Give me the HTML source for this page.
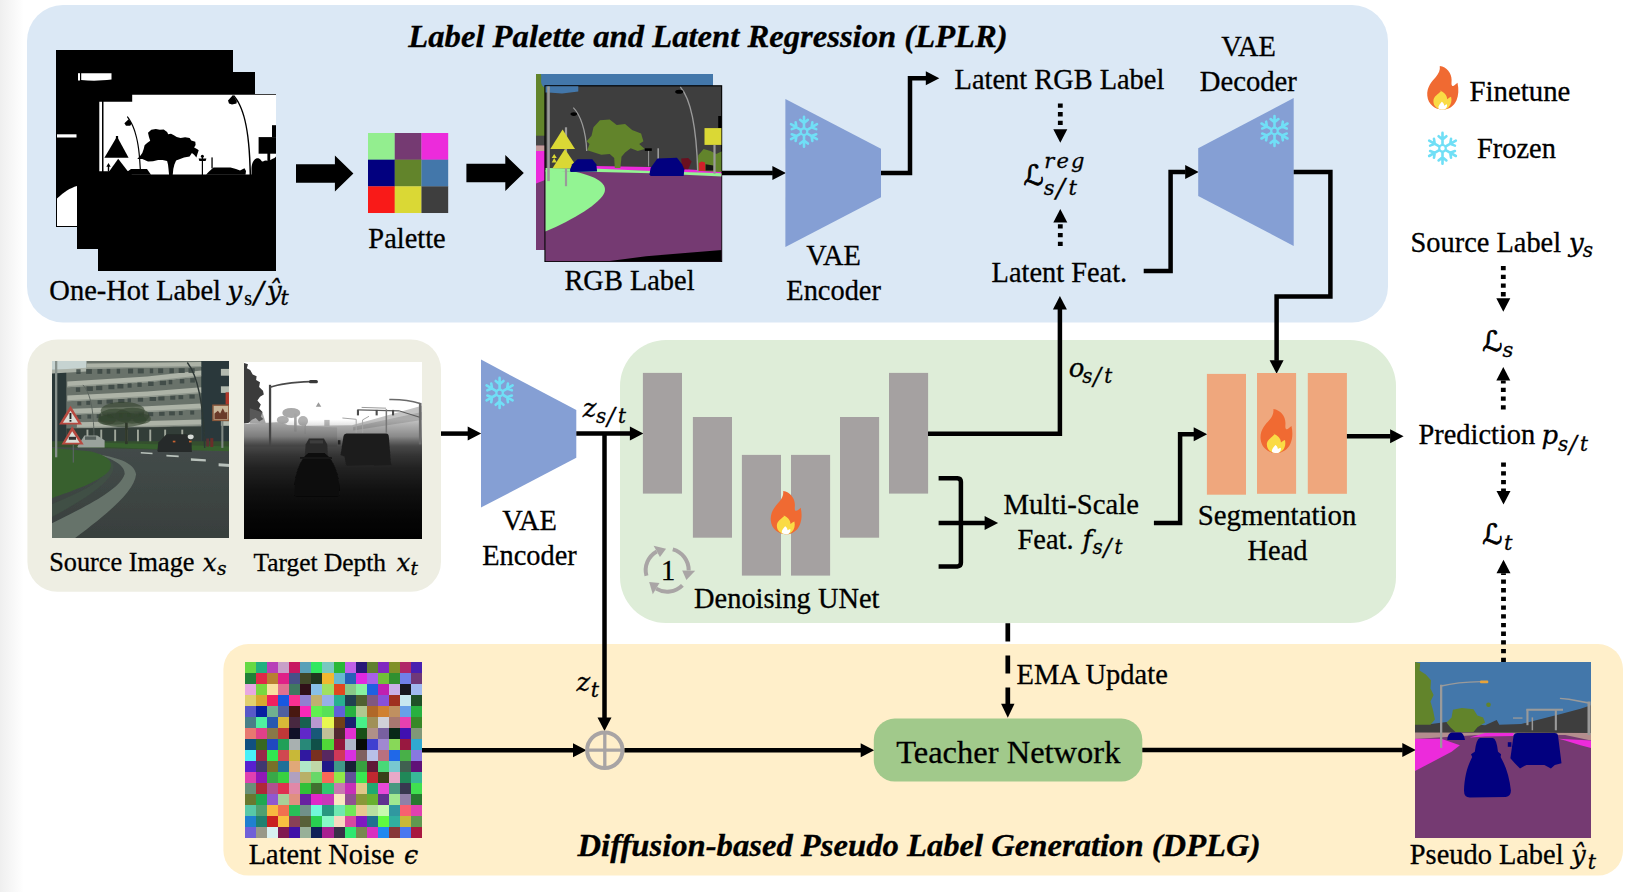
<!DOCTYPE html>
<html lang="en"><head><meta charset="utf-8"><title>Framework overview</title>
<style>
html,body{margin:0;padding:0;background:#fff;}
body{width:1642px;height:892px;overflow:hidden;position:relative;}
svg{display:block;position:absolute;left:0;top:0;}
text{font-family:'Liberation Serif',serif;fill:#000;stroke:#000;stroke-width:0.3px;}
</style></head><body>
<svg width="1642" height="892" viewBox="0 0 1642 892">
<defs>
<linearGradient id="edge" x1="0" x2="1" y1="0" y2="0"><stop offset="0" stop-color="#efefef"/><stop offset="1" stop-color="#ffffff"/></linearGradient>
<linearGradient id="depthg" x1="0" x2="0" y1="0" y2="1">
<stop offset="0" stop-color="#ffffff"/><stop offset="0.325" stop-color="#ffffff"/><stop offset="0.36" stop-color="#e2e2e2"/><stop offset="0.42" stop-color="#b4b4b4"/><stop offset="0.45" stop-color="#828282"/><stop offset="0.475" stop-color="#5e5e5e"/><stop offset="0.53" stop-color="#424242"/><stop offset="0.60" stop-color="#2b2b2b"/><stop offset="0.72" stop-color="#161616"/><stop offset="0.86" stop-color="#080808"/><stop offset="1" stop-color="#000"/></linearGradient>
<linearGradient id="roadg" x1="0" x2="0" y1="0" y2="1"><stop offset="0" stop-color="#434b49"/><stop offset="1" stop-color="#383f3d"/></linearGradient>
<filter id="b1" x="-5%" y="-5%" width="110%" height="110%"><feGaussianBlur stdDeviation="0.7"/></filter>
<filter id="b2" x="-5%" y="-5%" width="110%" height="110%"><feGaussianBlur stdDeviation="1.1"/></filter>
<clipPath id="c177"><rect x="0" y="0" width="177" height="177"/></clipPath>
</defs>
<rect x="0" y="0" width="1642" height="892" fill="#fff"/>
<rect x="0" y="0" width="24" height="892" fill="url(#edge)"/>
<rect x="27" y="5" width="1361" height="317.6" rx="36" fill="#DBE8F5"/>
<rect x="27.4" y="339.5" width="413.6" height="252.2" rx="30" fill="#EEEEE3"/>
<rect x="620" y="340" width="776" height="283" rx="46" fill="#DEEDD8"/>
<rect x="223.4" y="644" width="1399.6" height="231.6" rx="25" fill="#FFEFCA"/>
<text x="408.3" y="47.0" font-size="31" text-anchor="start" font-weight="bold" font-style="italic" textLength="599.4" lengthAdjust="spacingAndGlyphs">Label Palette and Latent Regression (LPLR)</text>
<text x="577.5" y="856.2" font-size="31" text-anchor="start" font-weight="bold" font-style="italic" textLength="683" lengthAdjust="spacingAndGlyphs">Diffusion-based Pseudo Label Generation (DPLG)</text>
<g>
<rect x="56.0" y="50.0" width="177" height="177" fill="#000"/>
<rect x="57" y="134.3" width="19.5" height="3.2" fill="#fff"/>
<path d="M57,198.5 C64,192 70,188 77,186 V226 H57 Z" fill="#fff"/>
<rect x="77" y="72" width="178" height="177" fill="#000"/>
<rect x="78" y="73.2" width="2" height="7.3" fill="#fff"/><path d="M81.2,73.2 H111.5 V79.6 C100,81 90,81 81.2,80 Z" fill="#fff"/>
<rect x="98" y="94" width="178" height="177" fill="#000"/>
<path d="M99.3,101.8 H132.2 V94.7 H276 V175.4 H99.3 Z" fill="#fff"/>
<g fill="#000" stroke="none">
<rect x="102" y="101" width="1.5" height="75"/>
<path d="M99,171.3 H128 L132,174.6 H276 V177 H99 Z"/>
<path d="M117,136.5 L128.6,157.8 H104.4 Z"/><rect x="115.9" y="136" width="2.2" height="5"/>
<path d="M118.2,158.7 L128.4,172 H108.8 Z"/>
<path d="M108.5,163 L110.7,166.8 H109.2 V171.5 H107.8 V166.8 H106.3 Z"/>
<path d="M127.5,116 C134,124 139.8,138 140.9,169 H139.7 C138.6,139 133.5,126 127,117.2 Z"/>
<path d="M124.4,123.2 L128.6,119.2 L131.7,123.4 L130.2,125.7 H126 Z"/>
<polygon points="148.0,132.8 151.3,129.7 155.8,128.9 159.8,129.7 163.7,129.4 167.1,131.9 168.2,134.2 171.0,133.7 173.9,135.3 176.7,137.1 180.6,137.9 185.1,137.3 189.6,137.9 191.3,140.5 195.3,141.8 195.6,145.0 194.1,147.5 197.0,149.1 198.7,150.3 197.5,153.7 196.4,157.6 194.1,154.8 191.9,153.1 189.6,156.5 184.0,157.6 180.1,158.9 176.1,160.4 174.4,164.4 173.3,168.9 172.7,175.2 169.1,175.2 168.5,168.9 168.0,164.4 167.1,161.0 162.6,160.1 158.1,159.9 153.0,161.2 148.0,161.5 144.6,160.1 142.3,158.9 137.2,158.9 140.1,155.9 142.3,153.1 143.7,149.1 144.6,145.2 147.1,143.0 150.2,140.7 148.9,136.8"/>
<rect x="201.8" y="155" width="1.2" height="21"/><path d="M198.6,158.5 H206.4 L205.6,161 H199.4 Z"/><circle cx="202.4" cy="156.2" r="1.5"/>
<rect x="211.4" y="157.4" width="1.3" height="11"/>
<path d="M127.5,171.5 L131,168.9 H147 L151,174.8 H127.5 Z"/>
<path d="M206,174.8 L208.5,172 L213.5,167.5 H230.5 L236,169 L240,170.5 L244.5,168.3 L246,171 L245.5,174.8 Z"/>
<path d="M234,95 C243,105 250.2,125 251.2,175.2 H249.6 C248.8,126 242.5,107.5 233.2,96 Z"/>
<path d="M233,95 L228,100.5 L229,103.6 L232,104.5 L236.5,103.6 L236.8,101 Z"/>
<rect x="258.6" y="137.1" width="17.4" height="16.6"/><rect x="272" y="125.2" width="4" height="12"/><rect x="267.4" y="153" width="2.8" height="17"/>
<path d="M251.5,175 V168 C252,160 256,157.5 259,158.5 C261,159.5 261.5,162 263,161.5 C265,160 267,160 268.5,161.5 C271,158.5 273.5,159.5 276,156.5 V175 Z"/>
</g></g>
<text x="49.3" y="300.3" font-size="28.5" text-anchor="start" >One-Hot Label <tspan x="227.2" y="300.3" font-size="26.5" font-style="italic" font-family="'DejaVu Serif','Liberation Serif',serif">y</tspan><tspan x="244.2" y="304.8" font-size="20">s</tspan><tspan x="254.0" y="302.6" font-size="29" font-style="italic" font-family="'DejaVu Serif','Liberation Serif',serif">/</tspan><tspan x="266.8" y="300.3" font-size="26.5" font-style="italic" font-family="'DejaVu Serif','Liberation Serif',serif">&#375;</tspan><tspan x="280.6" y="304.8" font-size="20.5" font-style="italic" font-family="'DejaVu Serif','Liberation Serif',serif">t</tspan></text>
<polygon points="296.0,164.3 334.9,164.3 334.9,155.6 353.4,173.6 334.9,191.6 334.9,182.8 296.0,182.8" fill="#000"/>
<polygon points="466.4,163.8 505.3,163.8 505.3,155.0 523.8,173.0 505.3,191.0 505.3,182.2 466.4,182.2" fill="#000"/>
<rect x="368.00" y="133.00" width="26.90" height="26.90" fill="#93EE8F"/>
<rect x="394.73" y="133.00" width="26.90" height="26.90" fill="#753A72"/>
<rect x="421.46" y="133.00" width="26.73" height="26.90" fill="#EC2BDB"/>
<rect x="368.00" y="159.67" width="26.90" height="26.90" fill="#02007F"/>
<rect x="394.73" y="159.67" width="26.90" height="26.90" fill="#62842B"/>
<rect x="421.46" y="159.67" width="26.73" height="26.90" fill="#4377AA"/>
<rect x="368.00" y="186.34" width="26.90" height="26.67" fill="#F91A18"/>
<rect x="394.73" y="186.34" width="26.90" height="26.67" fill="#DAD835"/>
<rect x="421.46" y="186.34" width="26.73" height="26.67" fill="#3E3E3E"/>
<text x="407.0" y="248.0" font-size="28.4" text-anchor="middle" >Palette</text>
<g>
<rect x="536.0" y="74.0" width="177" height="176" fill="#753A72"/>
<rect x="536.0" y="74.0" width="177" height="14" fill="#4377AA"/>
<path d="M536,74 H541 C542,80 539,84 545,88 V136 H536 Z" fill="#62842B"/>
<rect x="536" y="135.7" width="9" height="10" fill="#474747"/>
<rect x="536" y="145.5" width="9" height="6" fill="#C39A9A"/>
<path d="M536,151 H545 V180 L536,183.5 Z" fill="#EC2BDB"/>
<rect x="544.4" y="85.2" width="177.8" height="176.8" fill="#000"/>
<g transform="translate(545.4,86.2)">
<clipPath id="crgb"><rect x="0" y="0" width="176" height="175"/></clipPath><g clip-path="url(#crgb)">
<rect x="0" y="0" width="176" height="175" fill="#3E3E3E"/>
<polygon points="-0.1,-1.0 32.9,-1.0 32.9,5.2 16.7,7.4 2.7,6.3 -0.1,6.3" fill="#4377AA"/>
<polygon points="-0.1,84.5 176.7,87.3 176.7,175.6 -0.1,175.6" fill="#753A72"/>
<polygon points="50.3,79.7 103.6,80.9 176.7,85.3 176.7,89.3 103.6,84.8 50.3,83.7" fill="#EC2BDB"/>
<polygon points="-0.1,81.7 53.1,82.5 106.4,84.8 176.7,87.0 176.7,90.4 106.4,87.0 53.1,85.9 -0.1,85.3" fill="#93F493"/>
<path d="M-0.1,83.7 L30.7,85.9 C50.3,90.1 61.5,97.1 59.3,105.5 C55.9,116.7 27.9,133.5 -0.1,145.3 Z" fill="#93F493"/>
<polygon points="48.1,41.1 54.5,34.1 64.3,33.2 71.3,38.8 79.7,37.7 86.7,43.9 95.7,47.2 98.0,55.1 93.8,57.9 99.4,62.9 92.3,64.9 85.3,62.1 79.7,66.3 76.1,70.5 75.0,81.7 69.4,81.7 68.8,71.9 64.3,67.7 55.9,68.5 48.9,66.3 41.9,64.0 44.1,57.9 41.3,55.1 46.1,49.5" fill="#62842B"/>
<polygon points="151.8,84.5 152.9,69.1 158.2,62.9 165.2,64.9 170.8,67.7 176.7,64.9 176.7,85.9" fill="#62842B"/>
<polygon points="153.4,76.9 156.2,75.3 159.6,76.4 160.2,84.5 153.4,84.5" fill="#D0202A"/>
<polygon points="135.8,72.4 142.8,71.9 146.2,75.3 142.8,83.1 136.6,83.1" fill="#6A1020"/>
<polygon points="160.2,78.1 168.0,79.2 168.0,84.2 160.2,84.2" fill="#151515"/>
<rect x="1.8" y="0" width="2.6" height="94.9" fill="#9A9A9A"/>
<rect x="19.5" y="41.1" width="2.2" height="58.9" fill="#9A9A9A"/>
<polygon points="17.2,43.3 29.6,62.9 4.9,62.9" fill="#DAD835"/>
<polygon points="19.5,62.9 32.4,82.0 7.1,82.0" fill="#DAD835"/>
<polygon points="8.8,67.7 11.4,71.9 6.3,71.9" fill="#DAD835"/>
<polygon points="8.8,71.9 11.4,76.4 6.3,76.4" fill="#DAD835"/>
<path d="M27.9,21.4 C34.9,28.4 40.5,43.9 41.3,64.9" fill="none" stroke="#9A9A9A" stroke-width="1.3"/>
<ellipse cx="28.4" cy="27.9" rx="3.3" ry="1.8" fill="#000"/>
<path d="M134.9,0.7 C145.6,13.0 151.2,43.9 152.3,85.3" fill="none" stroke="#9A9A9A" stroke-width="1.4"/>
<ellipse cx="133.8" cy="5.5" rx="4" ry="2" fill="#000"/>
<rect x="102.7" y="62.9" width="1" height="17.4" fill="#9A9A9A"/>
<rect x="99.4" y="62.1" width="7" height="2.6" fill="#000"/>
<rect x="112.0" y="62.1" width="1.6" height="14.0" fill="#9A9A9A"/>
<path d="M24.5,83.7 L26.8,78.1 L32.1,73.0 L46.9,73.0 L50.9,78.1 L51.7,85.3 L25.1,85.9 Z" fill="#02007F"/>
<path d="M104.1,88.1 L105.2,81.7 L112.0,72.4 L131.6,71.6 L136.6,78.1 L138.9,83.1 L138.3,89.8 L105.2,89.8 Z" fill="#02007F"/>
<rect x="172.8" y="29.8" width="4" height="12.1" fill="#000"/>
<rect x="168.0" y="58.7" width="2.2" height="28.9" fill="#9A9A9A"/>
<rect x="159.1" y="41.9" width="19" height="16.8" fill="#DAD835"/>
<polygon points="55.9,175.9 100.8,170.0 142.8,166.6 176.7,163.8 176.7,175.9" fill="#000"/>
</g></g></g>
<text x="629.5" y="290.0" font-size="28.4" text-anchor="middle" >RGB Label</text>
<polyline points="722.0,173.0 772.9,173.0" fill="none" stroke="#000" stroke-width="4.5" stroke-linejoin="miter"/><polygon points="785.9,173.0 772.4,180.0 772.4,166.0" fill="#000"/>
<polygon points="785.4,99 881,148.8 881,197.3 785.4,247" fill="#859FD4"/>
<g transform="translate(804.0,131.7)" stroke="#70DFF6" stroke-width="2.6" stroke-linecap="round" fill="none">
<g transform="rotate(0)"><path d="M0,-4.2 L0,-15.0 M0,-8.7 l-3.9,-3.2 M0,-8.7 l3.9,-3.2"/></g>
<g transform="rotate(60)"><path d="M0,-4.2 L0,-15.0 M0,-8.7 l-3.9,-3.2 M0,-8.7 l3.9,-3.2"/></g>
<g transform="rotate(120)"><path d="M0,-4.2 L0,-15.0 M0,-8.7 l-3.9,-3.2 M0,-8.7 l3.9,-3.2"/></g>
<g transform="rotate(180)"><path d="M0,-4.2 L0,-15.0 M0,-8.7 l-3.9,-3.2 M0,-8.7 l3.9,-3.2"/></g>
<g transform="rotate(240)"><path d="M0,-4.2 L0,-15.0 M0,-8.7 l-3.9,-3.2 M0,-8.7 l3.9,-3.2"/></g>
<g transform="rotate(300)"><path d="M0,-4.2 L0,-15.0 M0,-8.7 l-3.9,-3.2 M0,-8.7 l3.9,-3.2"/></g>
<circle r="3.3" stroke-width="2.2"/>
</g>
<text x="833.6" y="264.5" font-size="28.4" text-anchor="middle" >VAE</text>
<text x="833.6" y="299.9" font-size="28.4" text-anchor="middle" >Encoder</text>
<polyline points="881.0,173.0 910.0,173.0 910.0,78.2 926.3,78.2" fill="none" stroke="#000" stroke-width="4.5" stroke-linejoin="miter"/><polygon points="939.3,78.2 925.8,85.2 925.8,71.2" fill="#000"/>
<text x="954.6" y="89.0" font-size="28.4" text-anchor="start" >Latent RGB Label</text>
<line x1="1060.3" y1="103.4" x2="1060.3" y2="129.3" stroke="#000" stroke-width="4.8" stroke-dasharray="4.3 4.4"/>
<polygon points="1060.3,142.8 1053.3,129.3 1067.3,129.3" fill="#000"/>
<text x="1023.5" y="185.3" style="font-family:'DejaVu Sans','DejaVu Math TeX Gyre',sans-serif;font-size:28px;stroke-width:0.8px">&#8466;</text>
<text x="1044.3" y="167.5" font-size="21" text-anchor="start" letter-spacing="2.1"><tspan font-style="italic" font-family="'DejaVu Serif','Liberation Serif',serif" font-size="21">reg</tspan></text>
<text x="1044.0" y="195.0" font-size="21" text-anchor="start" ><tspan x="1043.7" y="195.0" font-size="21" font-style="italic" font-family="'DejaVu Serif','Liberation Serif',serif">s</tspan><tspan x="1056.0" y="197.4" font-size="26.5" font-style="italic" font-family="'DejaVu Serif','Liberation Serif',serif">/</tspan><tspan x="1068.6" y="195.0" font-size="21" font-style="italic" font-family="'DejaVu Serif','Liberation Serif',serif">t</tspan></text>
<line x1="1060.3" y1="246.0" x2="1060.3" y2="222.5" stroke="#000" stroke-width="4.8" stroke-dasharray="4.3 4.4"/>
<polygon points="1060.3,209.0 1053.3,222.5 1067.3,222.5" fill="#000"/>
<text x="991.6" y="281.7" font-size="28.4" text-anchor="start" >Latent Feat.</text>
<polyline points="1143.7,271.0 1170.6,271.0 1170.6,172.0 1185.7,172.0" fill="none" stroke="#000" stroke-width="4.5" stroke-linejoin="miter"/><polygon points="1198.7,172.0 1185.2,179.0 1185.2,165.0" fill="#000"/>
<polygon points="1198.2,148.2 1293.7,98 1293.7,246 1198.2,195.9" fill="#859FD4"/>
<g transform="translate(1274.5,131.0)" stroke="#70DFF6" stroke-width="2.6" stroke-linecap="round" fill="none">
<g transform="rotate(0)"><path d="M0,-4.2 L0,-15.0 M0,-8.7 l-3.9,-3.2 M0,-8.7 l3.9,-3.2"/></g>
<g transform="rotate(60)"><path d="M0,-4.2 L0,-15.0 M0,-8.7 l-3.9,-3.2 M0,-8.7 l3.9,-3.2"/></g>
<g transform="rotate(120)"><path d="M0,-4.2 L0,-15.0 M0,-8.7 l-3.9,-3.2 M0,-8.7 l3.9,-3.2"/></g>
<g transform="rotate(180)"><path d="M0,-4.2 L0,-15.0 M0,-8.7 l-3.9,-3.2 M0,-8.7 l3.9,-3.2"/></g>
<g transform="rotate(240)"><path d="M0,-4.2 L0,-15.0 M0,-8.7 l-3.9,-3.2 M0,-8.7 l3.9,-3.2"/></g>
<g transform="rotate(300)"><path d="M0,-4.2 L0,-15.0 M0,-8.7 l-3.9,-3.2 M0,-8.7 l3.9,-3.2"/></g>
<circle r="3.3" stroke-width="2.2"/>
</g>
<text x="1248.5" y="56.0" font-size="28.4" text-anchor="middle" >VAE</text>
<text x="1248.3" y="90.6" font-size="28.7" text-anchor="middle" >Decoder</text>
<polyline points="1293.7,172.0 1330.4,172.0 1330.4,296.6 1276.6,296.6 1276.6,360.7" fill="none" stroke="#000" stroke-width="4.5" stroke-linejoin="miter"/><polygon points="1276.6,373.7 1269.6,360.2 1283.6,360.2" fill="#000"/>
<g transform="translate(1427.0,66.0) scale(0.984,0.991)">
<path d="M13,0 C20,1 25,7 25,14 C25,17 24.5,19 25.5,20 C27,21 29,18.5 31,17 C32.5,24 32,30 30,34.5 C27.5,40.5 22,44 16,44 C8,44 1,38.5 0.3,30 C-0.5,21 5,15.5 9,11 C12,7.5 13.5,4 13,0 Z" fill="#F06A32"/>
<path d="M12.6,24.8 C17,26 20.5,29.5 20.5,33.5 C22,32.5 23,31.5 24.5,31 C25.5,35 24.5,39 22,41.5 C20.5,43 18.5,44 16,44 C10.5,44 6.5,40.5 6.5,35.5 C6.5,30.5 11.5,28.5 14.5,25 Z" fill="#FADB45"/>
<path d="M15,36 C16.5,37 17.5,38.5 17.5,40 C18.5,39.5 19.3,39 20.3,38.7 C20.8,41 19.8,42.8 18.3,43.7 C17.6,43.9 16.8,44 16,44 C14.2,44 12.6,43.6 11.6,42.6 C11.2,39.8 13.5,38.2 15,36 Z" fill="#FFFFFF"/>
</g>
<text x="1469.6" y="101.0" font-size="28.8" text-anchor="start" >Finetune</text>
<g transform="translate(1442.5,148.3)" stroke="#70DFF6" stroke-width="2.6" stroke-linecap="round" fill="none">
<g transform="rotate(0)"><path d="M0,-4.2 L0,-15.4 M0,-8.9 l-3.9,-3.2 M0,-8.9 l3.9,-3.2"/></g>
<g transform="rotate(60)"><path d="M0,-4.2 L0,-15.4 M0,-8.9 l-3.9,-3.2 M0,-8.9 l3.9,-3.2"/></g>
<g transform="rotate(120)"><path d="M0,-4.2 L0,-15.4 M0,-8.9 l-3.9,-3.2 M0,-8.9 l3.9,-3.2"/></g>
<g transform="rotate(180)"><path d="M0,-4.2 L0,-15.4 M0,-8.9 l-3.9,-3.2 M0,-8.9 l3.9,-3.2"/></g>
<g transform="rotate(240)"><path d="M0,-4.2 L0,-15.4 M0,-8.9 l-3.9,-3.2 M0,-8.9 l3.9,-3.2"/></g>
<g transform="rotate(300)"><path d="M0,-4.2 L0,-15.4 M0,-8.9 l-3.9,-3.2 M0,-8.9 l3.9,-3.2"/></g>
<circle r="3.3" stroke-width="2.2"/>
</g>
<text x="1477.0" y="158.0" font-size="28.4" text-anchor="start" >Frozen</text>
<g transform="translate(52.0,361.0)" clip-path="url(#c177)"><g filter="url(#b1)">
<rect x="-2" y="-2" width="181" height="181" fill="#2A3838"/>
<rect x="-2.8" y="-1.7" width="38.3" height="10.6" fill="#C6D3D1" />
<polygon points="0.0,11.1 14.3,9.4 14.3,82.4 0.0,82.4" fill="#2A3739" />
<polygon points="14.3,8.9 34.5,7.2 34.5,0.0 149.5,0.0 149.5,82.4 14.3,82.4" fill="#69726A" />
<polygon points="0.0,8.9 34.5,6.8 34.5,10.6 0.0,12.4" fill="#AAB1A7" />
<polygon points="34.5,2.6 95.2,1.7 149.5,0.9 149.5,6.0 95.2,6.8 34.5,7.7" fill="#ADB3A7" />
<polygon points="34.5,6.6 95.2,5.8 149.5,4.9 149.5,6.0 95.2,6.8 34.5,7.7" fill="#8E968C" />
<polygon points="15.3,20.4 95.2,15.5 149.5,9.6 149.5,15.3 95.2,21.3 15.3,26.2" fill="#ADB3A7" />
<polygon points="15.3,25.1 95.2,20.2 149.5,14.3 149.5,15.3 95.2,21.3 15.3,26.2" fill="#8E968C" />
<polygon points="15.3,34.5 95.2,30.5 149.5,26.2 149.5,31.9 95.2,36.2 15.3,40.3" fill="#ADB3A7" />
<polygon points="15.3,39.2 95.2,35.1 149.5,30.9 149.5,31.9 95.2,36.2 15.3,40.3" fill="#8E968C" />
<polygon points="20.2,47.7 95.2,45.2 149.5,42.6 149.5,48.3 95.2,50.9 20.2,53.5" fill="#ADB3A7" />
<polygon points="20.2,52.4 95.2,49.8 149.5,47.3 149.5,48.3 95.2,50.9 20.2,53.5" fill="#8E968C" />
<polygon points="24.9,61.3 95.2,60.1 149.5,58.6 149.5,64.3 95.2,65.8 24.9,67.1" fill="#ADB3A7" />
<polygon points="24.9,66.0 95.2,64.7 149.5,63.3 149.5,64.3 95.2,65.8 24.9,67.1" fill="#8E968C" />
<rect x="24.3" y="8.2" width="4.3" height="4.8" fill="#3A4541" opacity="0.8"/>
<rect x="34.1" y="8.1" width="5.8" height="4.8" fill="#3A4541" opacity="0.8"/>
<rect x="45.4" y="8.0" width="4.9" height="4.8" fill="#3A4541" opacity="0.8"/>
<rect x="54.7" y="7.9" width="3.6" height="4.8" fill="#3A4541" opacity="0.8"/>
<rect x="64.7" y="7.8" width="3.4" height="4.8" fill="#3A4541" opacity="0.8"/>
<rect x="76.0" y="7.7" width="5.1" height="4.8" fill="#3A4541" opacity="0.8"/>
<rect x="85.8" y="7.6" width="6.0" height="4.8" fill="#3A4541" opacity="0.8"/>
<rect x="97.8" y="7.5" width="3.4" height="4.8" fill="#3A4541" opacity="0.8"/>
<rect x="106.1" y="7.4" width="5.1" height="4.8" fill="#3A4541" opacity="0.8"/>
<rect x="117.4" y="7.3" width="4.5" height="4.8" fill="#3A4541" opacity="0.8"/>
<rect x="126.7" y="7.2" width="6.0" height="4.8" fill="#3A4541" opacity="0.8"/>
<rect x="136.5" y="7.2" width="6.2" height="4.8" fill="#3A4541" opacity="0.8"/>
<rect x="23.9" y="26.4" width="4.3" height="4.5" fill="#3A4541" opacity="0.8"/>
<rect x="34.5" y="25.5" width="6.4" height="4.5" fill="#3A4541" opacity="0.8"/>
<rect x="44.1" y="24.7" width="6.2" height="4.5" fill="#3A4541" opacity="0.8"/>
<rect x="56.4" y="23.7" width="6.0" height="4.5" fill="#3A4541" opacity="0.8"/>
<rect x="65.4" y="23.0" width="6.0" height="4.5" fill="#3A4541" opacity="0.8"/>
<rect x="75.6" y="22.2" width="4.0" height="4.5" fill="#3A4541" opacity="0.8"/>
<rect x="85.4" y="21.4" width="4.3" height="4.5" fill="#3A4541" opacity="0.8"/>
<rect x="96.1" y="20.5" width="5.5" height="4.5" fill="#3A4541" opacity="0.8"/>
<rect x="107.8" y="19.6" width="6.2" height="4.5" fill="#3A4541" opacity="0.8"/>
<rect x="116.7" y="18.8" width="3.6" height="4.5" fill="#3A4541" opacity="0.8"/>
<rect x="127.8" y="17.9" width="4.5" height="4.5" fill="#3A4541" opacity="0.8"/>
<rect x="138.2" y="17.1" width="4.7" height="4.5" fill="#3A4541" opacity="0.8"/>
<rect x="25.3" y="40.5" width="4.0" height="4.0" fill="#3A4541" opacity="0.8"/>
<rect x="34.3" y="39.9" width="4.0" height="4.0" fill="#3A4541" opacity="0.8"/>
<rect x="45.6" y="39.2" width="4.3" height="4.0" fill="#3A4541" opacity="0.8"/>
<rect x="54.5" y="38.7" width="6.4" height="4.0" fill="#3A4541" opacity="0.8"/>
<rect x="66.2" y="38.0" width="6.2" height="4.0" fill="#3A4541" opacity="0.8"/>
<rect x="75.6" y="37.4" width="3.4" height="4.0" fill="#3A4541" opacity="0.8"/>
<rect x="85.8" y="36.7" width="5.3" height="4.0" fill="#3A4541" opacity="0.8"/>
<rect x="97.6" y="36.0" width="6.4" height="4.0" fill="#3A4541" opacity="0.8"/>
<rect x="106.3" y="35.5" width="6.2" height="4.0" fill="#3A4541" opacity="0.8"/>
<rect x="118.2" y="34.7" width="5.1" height="4.0" fill="#3A4541" opacity="0.8"/>
<rect x="126.5" y="34.2" width="4.7" height="4.0" fill="#3A4541" opacity="0.8"/>
<rect x="137.4" y="33.6" width="5.3" height="4.0" fill="#3A4541" opacity="0.8"/>
<rect x="24.5" y="54.0" width="4.7" height="4.0" fill="#3A4541" opacity="0.8"/>
<rect x="35.4" y="53.6" width="3.8" height="4.0" fill="#3A4541" opacity="0.8"/>
<rect x="44.7" y="53.2" width="4.3" height="4.0" fill="#3A4541" opacity="0.8"/>
<rect x="55.2" y="52.8" width="6.2" height="4.0" fill="#3A4541" opacity="0.8"/>
<rect x="67.1" y="52.3" width="3.4" height="4.0" fill="#3A4541" opacity="0.8"/>
<rect x="75.0" y="52.0" width="3.4" height="4.0" fill="#3A4541" opacity="0.8"/>
<rect x="86.5" y="51.6" width="5.5" height="4.0" fill="#3A4541" opacity="0.8"/>
<rect x="96.1" y="51.2" width="5.1" height="4.0" fill="#3A4541" opacity="0.8"/>
<rect x="107.1" y="50.8" width="5.5" height="4.0" fill="#3A4541" opacity="0.8"/>
<rect x="117.1" y="50.4" width="5.8" height="4.0" fill="#3A4541" opacity="0.8"/>
<rect x="126.9" y="50.1" width="3.8" height="4.0" fill="#3A4541" opacity="0.8"/>
<rect x="138.2" y="49.6" width="4.0" height="4.0" fill="#3A4541" opacity="0.8"/>
<polygon points="14.3,67.5 149.5,65.6 149.5,82.4 14.3,82.4" fill="#333D39" />
<rect x="34.5" y="68.6" width="1.9" height="12.8" fill="#9FA69A" />
<rect x="48.3" y="68.6" width="1.9" height="12.8" fill="#9FA69A" />
<rect x="62.2" y="68.6" width="1.9" height="12.8" fill="#9FA69A" />
<rect x="73.5" y="68.6" width="1.9" height="12.8" fill="#9FA69A" />
<rect x="85.0" y="68.6" width="1.9" height="12.8" fill="#9FA69A" />
<rect x="97.3" y="68.6" width="1.9" height="12.8" fill="#9FA69A" />
<rect x="112.2" y="68.6" width="1.9" height="12.8" fill="#9FA69A" />
<rect x="129.3" y="68.6" width="1.9" height="12.8" fill="#9FA69A" />
<rect x="149.5" y="-1.7" width="28.8" height="84.1" fill="#2A383A" />
<rect x="168.9" y="7.9" width="9.4" height="6.8" fill="#B4BBB0" />
<rect x="168.9" y="25.3" width="9.4" height="6.6" fill="#B4BBB0" />
<rect x="168.9" y="60.1" width="9.4" height="4.7" fill="#B4BBB0" />
<rect x="173.6" y="31.3" width="3.8" height="12.1" fill="#B0372C" />
<polygon points="0.0,80.3 178.3,80.3 178.3,90.9 0.0,87.8" fill="#34502E" />
<polygon points="52.6,81.8 178.3,85.6 178.3,90.9 52.6,86.0" fill="#37602F" />
<path d="M0.0,86.0 L178.3,90.3 L178.3,179.3 L0.0,179.3 L0.0,86.0 Z" fill="url(#roadg)"/>
<path d="M42.0,92.4 C63.3,96.3 82.4,100.5 84.1,113.3 C82.4,130.4 56.9,151.7 22.8,177.2 L0.0,177.2 L0.0,162.3 C27.1,148.5 67.1,130.4 72.6,113.3 C73.5,103.1 57.9,96.7 42.0,92.4 Z" fill="#66736A"/>
<path d="M56.9,98.4 C67.5,104.8 65.4,121.8 0.0,155.9 L0.0,143.1 C46.2,124.0 61.1,113.3 50.5,97.3 Z" fill="#3F4F44"/>
<path d="M0.0,86.9 L37.7,90.3 C54.7,94.1 63.3,100.5 56.9,110.1 C46.2,121.8 18.5,130.4 0.0,137.2 Z" fill="#37602F"/>
<polygon points="88.8,90.9 100.5,91.8 100.5,93.3 88.8,92.4" fill="#B9C2BC" />
<polygon points="114.4,93.7 126.7,94.6 126.7,96.3 114.4,95.4" fill="#B9C2BC" />
<polygon points="138.9,97.3 153.8,98.2 153.8,100.5 138.9,99.7" fill="#B9C2BC" />
<polygon points="166.6,102.2 178.3,103.1 178.3,106.1 166.6,105.2" fill="#B9C2BC" />
<ellipse cx="70.7" cy="49.8" rx="22" ry="9" fill="#34432F" opacity="0.62"/>
<ellipse cx="63.3" cy="55.8" rx="17" ry="8" fill="#34432F" opacity="0.62"/>
<ellipse cx="80.3" cy="54.7" rx="17" ry="8" fill="#34432F" opacity="0.62"/>
<ellipse cx="70.7" cy="59.0" rx="24" ry="7" fill="#34432F" opacity="0.62"/>
<ellipse cx="54.7" cy="59.0" rx="9" ry="5" fill="#34432F" opacity="0.62"/>
<ellipse cx="89.9" cy="57.9" rx="9" ry="5" fill="#34432F" opacity="0.62"/>
<rect x="73.1" y="61.8" width="2.6" height="21.3" fill="#2F372A" />
<path d="M135.3,1.5 C146.3,15.3 151.7,47.3 152.7,86.9" fill="none" stroke="#2E3836" stroke-width="1.4"/>
<path d="M30.9,23.9 C38.8,32.4 41.5,49.4 42.0,75.0" fill="none" stroke="#59625C" stroke-width="0.9"/>
<path d="M25.3,85.6 L32.4,74.5 L45.2,74.5 L52.6,79.2 L52.6,86.5 L26.0,86.5 Z" fill="#9AA29C"/>
<rect x="33.0" y="75.4" width="11.1" height="3.4" fill="#56605C" />
<path d="M105.4,89.5 L106.3,81.4 L114.4,73.3 L134.6,73.3 L139.5,80.3 L139.9,90.9 L105.9,90.9 Z" fill="#262B29"/>
<rect x="120.8" y="79.7" width="2.6" height="1.7" fill="#C86030" />
<rect x="137.0" y="79.7" width="2.6" height="1.7" fill="#C86030" />
<ellipse cx="138.7" cy="75.8" rx="3" ry="2.4" fill="#D8DDD8"/>
<rect x="154.2" y="77.5" width="2.8" height="8.1" fill="#5A3230" />
<rect x="158.3" y="77.1" width="3.0" height="8.9" fill="#6A2E2C" />
<rect x="3.0" y="0.0" width="2.3" height="96.3" fill="#87918C" />
<polygon points="18.5,44.7 30.0,63.5 7.0,63.5" fill="#B74A40" />
<polygon points="18.5,49.8 26.2,61.8 10.9,61.8" fill="#D9DDD6" />
<rect x="17.5" y="52.0" width="1.9" height="6.0" fill="#222" />
<rect x="17.5" y="59.0" width="1.9" height="1.7" fill="#222" />
<polygon points="20.2,65.2 31.7,83.5 9.6,83.5" fill="#B74A40" />
<polygon points="20.2,70.3 27.7,81.8 13.2,81.8" fill="#D9DDD6" />
<rect x="16.8" y="75.8" width="7.2" height="3.0" fill="#333" />
<rect x="20.7" y="83.5" width="1.3" height="18.1" fill="#59645E" />
<rect x="169.3" y="59.6" width="2.1" height="27.3" fill="#7F8883" />
<rect x="160.2" y="43.5" width="17.3" height="16.6" fill="#8B5A3E" />
<rect x="161.7" y="44.9" width="14.5" height="13.6" fill="#C9B89B" />
<polygon points="162.5,57.9 162.5,52.6 165.9,49.8 168.1,52.6 170.8,47.3 172.9,51.5 175.3,51.1 175.3,57.9" fill="#6B3A2A" />
</g></g>
<g transform="translate(244.0,362.0)"><clipPath id="cdep"><rect x="0" y="0" width="178" height="177"/></clipPath><g clip-path="url(#cdep)">
<rect x="0" y="0" width="178" height="177" fill="#fff"/>
<g filter="url(#b1)">
<polygon points="0.0,62.2 18.5,61.6 35.6,60.3 44.1,63.3 63.3,63.7 108.0,63.3 177.8,43.7 177.8,184.7 0.0,184.7" fill="#C4C4C4" />
<polygon points="109.1,65.0 177.8,50.1 177.8,57.9 109.1,68.4" fill="#ABABAB" />
<polygon points="0.0,62.0 18.5,61.1 35.6,60.3 44.1,63.3 63.3,64.1 93.1,65.4 93.1,84.6 0.0,84.6" fill="#B2B2B2" />
<rect x="80.3" y="57.9" width="5.3" height="6.4" fill="#BDBDBD" />
<ellipse cx="47.3" cy="50.9" rx="9" ry="5" fill="#A9A9A9"/>
<ellipse cx="38.8" cy="57.9" rx="6" ry="4" fill="#ADADAD"/>
<rect x="50.1" y="51.5" width="2.6" height="18.1" fill="#A5A5A5" />
<rect x="60.3" y="56.9" width="1.7" height="14.9" fill="#ABABAB" />
<ellipse cx="59.0" cy="59.0" rx="5" ry="5" fill="#B2B2B2"/>
</g>
<rect x="0" y="0" width="178" height="177" fill="url(#depthg)" style="mix-blend-mode:multiply"/>
<g filter="url(#b1)">
<polygon points="0.0,1.1 4.0,2.3 2.8,6.2 6.2,7.9 8.7,12.6 12.6,14.3 12.1,18.1 16.0,20.2 15.1,24.9 19.0,28.8 19.8,32.6 16.0,34.7 13.4,38.6 16.8,42.4 15.1,46.6 18.5,50.1 16.8,54.7 19.4,56.9 15.1,59.4 11.7,56.0 7.9,57.7 4.9,60.7 0.0,61.6" fill="#3A3A3A" />
<polygon points="5.8,46.2 18.5,50.5 21.7,61.1 5.8,61.6" fill="#6E6E6E" opacity="0.6"/>
<rect x="24.9" y="22.8" width="2.3" height="60.7" fill="#454545" />
<path d="M26.2,25.3 C35.6,21.7 50.5,20.2 66.5,19.6" fill="none" stroke="#4A4A4A" stroke-width="1.6"/>
<rect x="65.0" y="18.1" width="8.9" height="3.2" fill="#383838" rx="1.5"/>
<polygon points="74.5,40.3 77.3,44.7 71.8,44.7" fill="#9A9A9A" />
<path d="M145.3,37.5 C154.8,37.3 167.6,38.8 176.1,41.5" fill="none" stroke="#6A6A6A" stroke-width="1.4"/>
<rect x="174.9" y="40.9" width="2.6" height="41.5" fill="#6A6A6A" />
<path d="M113.3,47.9 L154.8,48.8 L175.7,55.2" fill="none" stroke="#5C5C5C" stroke-width="1.2"/>
<rect x="112.9" y="47.9" width="2.1" height="5.5" fill="#4E4E4E" />
<rect x="131.6" y="47.9" width="2.1" height="5.5" fill="#4E4E4E" />
<rect x="148.0" y="47.9" width="2.1" height="5.5" fill="#4E4E4E" />
<rect x="141.6" y="47.3" width="1.5" height="23.4" fill="#777" />
<path d="M117.6,45.4 L142.1,46.2" fill="none" stroke="#9A9A9A" stroke-width="1"/>
<path d="M98.4,56.0 L112.2,57.3 L112.2,70.7" fill="none" stroke="#A5A5A5" stroke-width="1"/>
<path d="M125.0,54.3 L118.6,57.9 L118.6,70.7" fill="none" stroke="#A5A5A5" stroke-width="1"/>
<path d="M96.5,93.1 L99.5,73.9 Q99.9,71.4 102.7,71.4 L142.1,71.4 Q144.6,71.4 144.8,74.3 L147.2,103.3 L102.0,103.7 L100.5,94.8 Z" fill="#1F1F1F"/>
<rect x="93.9" y="78.2" width="2.6" height="4.3" fill="#222" />
<path d="M60.7,93.1 L61.6,82.4 L65.0,76.5 L79.9,76.5 L83.3,82.4 L83.9,93.1 Z" fill="#2B2B2B"/>
<rect x="65.8" y="78.2" width="13.2" height="3.2" fill="#3c3c3c" />
<path d="M50.1,129.3 C50.1,112.2 55.8,97.3 64.3,90.9 L80.3,90.9 C89.9,97.3 95.6,112.2 95.6,129.3 L95.6,132.5 Q95.6,134.6 93.1,134.6 L52.6,134.6 Q50.1,134.6 50.1,132.5 Z" fill="#0C0C0C"/>
<rect x="56.0" y="95.2" width="31.9" height="1.7" fill="#151515" />
</g></g></g>
<text x="49.2" y="570.5" font-size="26.3" text-anchor="start" >Source Image <tspan x="202.7" y="570.5" font-size="24.5" font-style="italic" font-family="'DejaVu Serif','Liberation Serif',serif">x</tspan><tspan x="216.9" y="575.3" font-size="18.5" font-style="italic" font-family="'DejaVu Serif','Liberation Serif',serif">s</tspan></text>
<text x="253.6" y="570.5" font-size="25.4" text-anchor="start" >Target Depth <tspan x="396.4" y="570.5" font-size="24.5" font-style="italic" font-family="'DejaVu Serif','Liberation Serif',serif">x</tspan><tspan x="410.6" y="575.3" font-size="18.5" font-style="italic" font-family="'DejaVu Serif','Liberation Serif',serif">t</tspan></text>
<polyline points="441.0,433.6 468.2,433.6" fill="none" stroke="#000" stroke-width="4.5" stroke-linejoin="miter"/><polygon points="481.2,433.6 467.7,440.6 467.7,426.6" fill="#000"/>
<polygon points="481,359.6 576.3,410 576.3,457.8 481,507.6" fill="#859FD4"/>
<g transform="translate(499.6,392.9)" stroke="#70DFF6" stroke-width="2.6" stroke-linecap="round" fill="none">
<g transform="rotate(0)"><path d="M0,-4.2 L0,-15.0 M0,-8.7 l-3.9,-3.2 M0,-8.7 l3.9,-3.2"/></g>
<g transform="rotate(60)"><path d="M0,-4.2 L0,-15.0 M0,-8.7 l-3.9,-3.2 M0,-8.7 l3.9,-3.2"/></g>
<g transform="rotate(120)"><path d="M0,-4.2 L0,-15.0 M0,-8.7 l-3.9,-3.2 M0,-8.7 l3.9,-3.2"/></g>
<g transform="rotate(180)"><path d="M0,-4.2 L0,-15.0 M0,-8.7 l-3.9,-3.2 M0,-8.7 l3.9,-3.2"/></g>
<g transform="rotate(240)"><path d="M0,-4.2 L0,-15.0 M0,-8.7 l-3.9,-3.2 M0,-8.7 l3.9,-3.2"/></g>
<g transform="rotate(300)"><path d="M0,-4.2 L0,-15.0 M0,-8.7 l-3.9,-3.2 M0,-8.7 l3.9,-3.2"/></g>
<circle r="3.3" stroke-width="2.2"/>
</g>
<text x="529.5" y="530.0" font-size="28.4" text-anchor="middle" >VAE</text>
<text x="529.5" y="564.5" font-size="28.4" text-anchor="middle" >Encoder</text>
<text x="583.0" y="416.5" font-size="28.4" text-anchor="start" ><tspan x="582.8" y="416.5" font-size="26" font-style="italic" font-family="'DejaVu Serif','Liberation Serif',serif">z</tspan><tspan x="596.0" y="422.9" font-size="19.8" font-style="italic" font-family="'DejaVu Serif','Liberation Serif',serif">s</tspan><tspan x="607.0" y="425.0" font-size="23.5" font-style="italic" font-family="'DejaVu Serif','Liberation Serif',serif">/</tspan><tspan x="618.0" y="422.9" font-size="19.8" font-style="italic" font-family="'DejaVu Serif','Liberation Serif',serif">t</tspan></text>
<polyline points="576.3,433.6 630.4,433.6" fill="none" stroke="#000" stroke-width="4.5" stroke-linejoin="miter"/><polygon points="643.4,433.6 629.9,440.6 629.9,426.6" fill="#000"/>
<polyline points="604.5,433.6 604.5,718.0" fill="none" stroke="#000" stroke-width="4.5" stroke-linejoin="miter"/><polygon points="604.5,731.0 597.5,717.5 611.5,717.5" fill="#000"/>
<rect x="642.9" y="372.9" width="39.1" height="120.7" fill="#A5A1A1"/>
<rect x="692.9" y="417.0" width="39.1" height="120.7" fill="#A5A1A1"/>
<rect x="741.9" y="454.9" width="39.1" height="120.7" fill="#A5A1A1"/>
<rect x="791.0" y="454.9" width="39.1" height="120.7" fill="#A5A1A1"/>
<rect x="840.0" y="417.0" width="39.1" height="120.7" fill="#A5A1A1"/>
<rect x="889.0" y="372.9" width="39.1" height="120.7" fill="#A5A1A1"/>
<g transform="translate(770.5,491.0) scale(0.975,0.982)">
<path d="M13,0 C20,1 25,7 25,14 C25,17 24.5,19 25.5,20 C27,21 29,18.5 31,17 C32.5,24 32,30 30,34.5 C27.5,40.5 22,44 16,44 C8,44 1,38.5 0.3,30 C-0.5,21 5,15.5 9,11 C12,7.5 13.5,4 13,0 Z" fill="#F06A32"/>
<path d="M12.6,24.8 C17,26 20.5,29.5 20.5,33.5 C22,32.5 23,31.5 24.5,31 C25.5,35 24.5,39 22,41.5 C20.5,43 18.5,44 16,44 C10.5,44 6.5,40.5 6.5,35.5 C6.5,30.5 11.5,28.5 14.5,25 Z" fill="#FADB45"/>
<path d="M15,36 C16.5,37 17.5,38.5 17.5,40 C18.5,39.5 19.3,39 20.3,38.7 C20.8,41 19.8,42.8 18.3,43.7 C17.6,43.9 16.8,44 16,44 C14.2,44 12.6,43.6 11.6,42.6 C11.2,39.8 13.5,38.2 15,36 Z" fill="#FFFFFF"/>
</g>
<g transform="translate(667.2,570.2)" fill="none" stroke="#A9A5A5" stroke-width="4">
<path d="M5.56,-20.77 A21.5,21.5 0 0 1 21.50,0.38"/>
<polygon points="19.16,9.76 28.00,0.49 15.00,0.26" fill="#A9A5A5" stroke="none"/>
<path d="M15.20,15.20 A21.5,21.5 0 0 1 -11.07,18.43"/>
<polygon points="-18.03,11.71 -14.42,24.00 -7.73,12.86" fill="#A9A5A5" stroke="none"/>
<path d="M-20.77,5.56 A21.5,21.5 0 0 1 -10.42,-18.80"/>
<polygon points="-1.13,-21.47 -13.57,-24.49 -7.27,-13.12" fill="#A9A5A5" stroke="none"/>
</g>
<text x="668.0" y="580.0" font-size="28.4" text-anchor="middle" >1</text>
<text x="694.1" y="608.2" font-size="28.4" text-anchor="start" >Denoising UNet</text>
<polyline points="928.0,433.8 1059.9,433.8 1059.9,309.0" fill="none" stroke="#000" stroke-width="4.5" stroke-linejoin="miter"/><polygon points="1059.9,296.0 1066.9,309.5 1052.9,309.5" fill="#000"/>
<text x="1069.0" y="377.4" font-size="28.4" text-anchor="start" ><tspan x="1068.8" y="377.4" font-size="26" font-style="italic" font-family="'DejaVu Serif','Liberation Serif',serif">o</tspan><tspan x="1082.2" y="382.8" font-size="19.8" font-style="italic" font-family="'DejaVu Serif','Liberation Serif',serif">s</tspan><tspan x="1093.2" y="384.9" font-size="23.5" font-style="italic" font-family="'DejaVu Serif','Liberation Serif',serif">/</tspan><tspan x="1104.2" y="382.8" font-size="19.8" font-style="italic" font-family="'DejaVu Serif','Liberation Serif',serif">t</tspan></text>
<path d="M938.6,478.2 H957.4 Q960.9,478.4 960.9,481.8 V562.8 Q960.9,566.2 957.4,566.4 H938.6" fill="none" stroke="#000" stroke-width="4.5"/>
<polyline points="938.6,523.0 985.1,523.0" fill="none" stroke="#000" stroke-width="4.5" stroke-linejoin="miter"/><polygon points="998.1,523.0 984.6,530.0 984.6,516.0" fill="#000"/>
<text x="1071.2" y="514.3" font-size="28.7" text-anchor="middle" >Multi-Scale</text>
<text x="1017.5" y="548.8" font-size="28.4" text-anchor="start" >Feat. <tspan x="1082.5" y="548.8" font-size="26" font-style="italic" font-family="'DejaVu Serif','Liberation Serif',serif">f</tspan><tspan x="1092.6" y="554.3" font-size="19.8" font-style="italic" font-family="'DejaVu Serif','Liberation Serif',serif">s</tspan><tspan x="1103.6" y="556.4" font-size="23.5" font-style="italic" font-family="'DejaVu Serif','Liberation Serif',serif">/</tspan><tspan x="1114.6" y="554.3" font-size="19.8" font-style="italic" font-family="'DejaVu Serif','Liberation Serif',serif">t</tspan></text>
<polyline points="1153.9,523.0 1180.1,523.0 1180.1,434.3 1194.2,434.3" fill="none" stroke="#000" stroke-width="4.5" stroke-linejoin="miter"/><polygon points="1207.2,434.3 1193.7,441.3 1193.7,427.3" fill="#000"/>
<rect x="1206.9" y="373.9" width="39.1" height="120.8" fill="#EFA77D"/>
<rect x="1257.0" y="373.0" width="39.1" height="120.8" fill="#EFA77D"/>
<rect x="1307.8" y="373.0" width="39.1" height="120.8" fill="#EFA77D"/>
<g transform="translate(1260.3,408.9) scale(1.006,1.005)">
<path d="M13,0 C20,1 25,7 25,14 C25,17 24.5,19 25.5,20 C27,21 29,18.5 31,17 C32.5,24 32,30 30,34.5 C27.5,40.5 22,44 16,44 C8,44 1,38.5 0.3,30 C-0.5,21 5,15.5 9,11 C12,7.5 13.5,4 13,0 Z" fill="#F06A32"/>
<path d="M12.6,24.8 C17,26 20.5,29.5 20.5,33.5 C22,32.5 23,31.5 24.5,31 C25.5,35 24.5,39 22,41.5 C20.5,43 18.5,44 16,44 C10.5,44 6.5,40.5 6.5,35.5 C6.5,30.5 11.5,28.5 14.5,25 Z" fill="#FADB45"/>
<path d="M15,36 C16.5,37 17.5,38.5 17.5,40 C18.5,39.5 19.3,39 20.3,38.7 C20.8,41 19.8,42.8 18.3,43.7 C17.6,43.9 16.8,44 16,44 C14.2,44 12.6,43.6 11.6,42.6 C11.2,39.8 13.5,38.2 15,36 Z" fill="#FFFFFF"/>
</g>
<text x="1277.0" y="525.0" font-size="28.85" text-anchor="middle" >Segmentation</text>
<text x="1277.5" y="559.6" font-size="28.4" text-anchor="middle" >Head</text>
<polyline points="1346.9,436.3 1390.6,436.3" fill="none" stroke="#000" stroke-width="4.5" stroke-linejoin="miter"/><polygon points="1403.6,436.3 1390.1,443.3 1390.1,429.3" fill="#000"/>
<text x="1410.5" y="251.5" font-size="28.4" text-anchor="start" >Source Label <tspan x="1568.8" y="251.5" font-size="26.5" font-style="italic" font-family="'DejaVu Serif','Liberation Serif',serif">y</tspan><tspan x="1582.8" y="256.9" font-size="20" font-style="italic" font-family="'DejaVu Serif','Liberation Serif',serif">s</tspan></text>
<line x1="1503.3" y1="266.0" x2="1503.3" y2="298.3" stroke="#000" stroke-width="4.8" stroke-dasharray="4.3 4.4"/>
<polygon points="1503.3,311.8 1496.3,298.3 1510.3,298.3" fill="#000"/>
<text x="1482.3" y="350.8" style="font-family:'DejaVu Sans','DejaVu Math TeX Gyre',sans-serif;font-size:28px;stroke-width:0.8px">&#8466;</text>
<text x="1503.0" y="357.0" font-size="21" text-anchor="start" ><tspan x="1502.6" y="357.0" font-size="21" font-style="italic" font-family="'DejaVu Serif','Liberation Serif',serif">s</tspan></text>
<line x1="1503.3" y1="409.5" x2="1503.3" y2="380.5" stroke="#000" stroke-width="4.8" stroke-dasharray="4.3 4.4"/>
<polygon points="1503.3,367.0 1496.3,380.5 1510.3,380.5" fill="#000"/>
<text x="1418.5" y="444.3" font-size="28.4" text-anchor="start" >Prediction <tspan x="1541.5" y="444.3" font-size="26" font-style="italic" font-family="'DejaVu Serif','Liberation Serif',serif">p</tspan><tspan x="1557.9" y="450.6" font-size="19.8" font-style="italic" font-family="'DejaVu Serif','Liberation Serif',serif">s</tspan><tspan x="1568.9" y="452.7" font-size="23.5" font-style="italic" font-family="'DejaVu Serif','Liberation Serif',serif">/</tspan><tspan x="1579.9" y="450.6" font-size="19.8" font-style="italic" font-family="'DejaVu Serif','Liberation Serif',serif">t</tspan></text>
<line x1="1503.5" y1="462.5" x2="1503.5" y2="491.0" stroke="#000" stroke-width="4.8" stroke-dasharray="4.3 4.4"/>
<polygon points="1503.5,504.5 1496.5,491.0 1510.5,491.0" fill="#000"/>
<text x="1482.3" y="543.5" style="font-family:'DejaVu Sans','DejaVu Math TeX Gyre',sans-serif;font-size:28px;stroke-width:0.8px">&#8466;</text>
<text x="1504.0" y="549.7" font-size="21" text-anchor="start" ><tspan x="1504.0" y="549.7" font-size="21" font-style="italic" font-family="'DejaVu Serif','Liberation Serif',serif">t</tspan></text>
<line x1="1503.5" y1="662.0" x2="1503.5" y2="573.2" stroke="#000" stroke-width="4.8" stroke-dasharray="4.3 4.4"/>
<polygon points="1503.5,559.7 1496.5,573.2 1510.5,573.2" fill="#000"/>
<g shape-rendering="crispEdges">
<rect x="245.00" y="662.00" width="11.36" height="11.30" fill="#66D944"/>
<rect x="256.06" y="662.00" width="11.36" height="11.30" fill="#22B080"/>
<rect x="267.12" y="662.00" width="11.36" height="11.30" fill="#B840B8"/>
<rect x="278.19" y="662.00" width="11.36" height="11.30" fill="#C8A0C8"/>
<rect x="289.25" y="662.00" width="11.36" height="11.30" fill="#C81860"/>
<rect x="300.31" y="662.00" width="11.36" height="11.30" fill="#58A0B8"/>
<rect x="311.38" y="662.00" width="11.36" height="11.30" fill="#30E860"/>
<rect x="322.44" y="662.00" width="11.36" height="11.30" fill="#78C8C0"/>
<rect x="333.50" y="662.00" width="11.36" height="11.30" fill="#28B838"/>
<rect x="344.56" y="662.00" width="11.36" height="11.30" fill="#C060E8"/>
<rect x="355.62" y="662.00" width="11.36" height="11.30" fill="#281878"/>
<rect x="366.69" y="662.00" width="11.36" height="11.30" fill="#608030"/>
<rect x="377.75" y="662.00" width="11.36" height="11.30" fill="#8028C0"/>
<rect x="388.81" y="662.00" width="11.36" height="11.30" fill="#809028"/>
<rect x="399.88" y="662.00" width="11.36" height="11.30" fill="#B02868"/>
<rect x="410.94" y="662.00" width="11.36" height="11.30" fill="#4820B0"/>
<rect x="245.00" y="673.00" width="11.36" height="11.30" fill="#208038"/>
<rect x="256.06" y="673.00" width="11.36" height="11.30" fill="#E02848"/>
<rect x="267.12" y="673.00" width="11.36" height="11.30" fill="#B88030"/>
<rect x="278.19" y="673.00" width="11.36" height="11.30" fill="#E02088"/>
<rect x="289.25" y="673.00" width="11.36" height="11.30" fill="#485088"/>
<rect x="300.31" y="673.00" width="11.36" height="11.30" fill="#404828"/>
<rect x="311.38" y="673.00" width="11.36" height="11.30" fill="#203820"/>
<rect x="322.44" y="673.00" width="11.36" height="11.30" fill="#F0B830"/>
<rect x="333.50" y="673.00" width="11.36" height="11.30" fill="#68B8D0"/>
<rect x="344.56" y="673.00" width="11.36" height="11.30" fill="#2860B8"/>
<rect x="355.62" y="673.00" width="11.36" height="11.30" fill="#E028E0"/>
<rect x="366.69" y="673.00" width="11.36" height="11.30" fill="#A860E8"/>
<rect x="377.75" y="673.00" width="11.36" height="11.30" fill="#70C038"/>
<rect x="388.81" y="673.00" width="11.36" height="11.30" fill="#309030"/>
<rect x="399.88" y="673.00" width="11.36" height="11.30" fill="#7080E8"/>
<rect x="410.94" y="673.00" width="11.36" height="11.30" fill="#703878"/>
<rect x="245.00" y="684.00" width="11.36" height="11.30" fill="#E8A8E0"/>
<rect x="256.06" y="684.00" width="11.36" height="11.30" fill="#78D840"/>
<rect x="267.12" y="684.00" width="11.36" height="11.30" fill="#F8E0A0"/>
<rect x="278.19" y="684.00" width="11.36" height="11.30" fill="#E07090"/>
<rect x="289.25" y="684.00" width="11.36" height="11.30" fill="#407860"/>
<rect x="300.31" y="684.00" width="11.36" height="11.30" fill="#301018"/>
<rect x="311.38" y="684.00" width="11.36" height="11.30" fill="#88C0E8"/>
<rect x="322.44" y="684.00" width="11.36" height="11.30" fill="#A0E060"/>
<rect x="333.50" y="684.00" width="11.36" height="11.30" fill="#E04820"/>
<rect x="344.56" y="684.00" width="11.36" height="11.30" fill="#88C888"/>
<rect x="355.62" y="684.00" width="11.36" height="11.30" fill="#88F0A0"/>
<rect x="366.69" y="684.00" width="11.36" height="11.30" fill="#2060E0"/>
<rect x="377.75" y="684.00" width="11.36" height="11.30" fill="#C020B0"/>
<rect x="388.81" y="684.00" width="11.36" height="11.30" fill="#C8B0E8"/>
<rect x="399.88" y="684.00" width="11.36" height="11.30" fill="#181820"/>
<rect x="410.94" y="684.00" width="11.36" height="11.30" fill="#A0B8F0"/>
<rect x="245.00" y="695.00" width="11.36" height="11.30" fill="#E0D070"/>
<rect x="256.06" y="695.00" width="11.36" height="11.30" fill="#D8A830"/>
<rect x="267.12" y="695.00" width="11.36" height="11.30" fill="#F02060"/>
<rect x="278.19" y="695.00" width="11.36" height="11.30" fill="#1858E0"/>
<rect x="289.25" y="695.00" width="11.36" height="11.30" fill="#F83090"/>
<rect x="300.31" y="695.00" width="11.36" height="11.30" fill="#9080D0"/>
<rect x="311.38" y="695.00" width="11.36" height="11.30" fill="#C0B070"/>
<rect x="322.44" y="695.00" width="11.36" height="11.30" fill="#98B0E8"/>
<rect x="333.50" y="695.00" width="11.36" height="11.30" fill="#28B090"/>
<rect x="344.56" y="695.00" width="11.36" height="11.30" fill="#204050"/>
<rect x="355.62" y="695.00" width="11.36" height="11.30" fill="#506030"/>
<rect x="366.69" y="695.00" width="11.36" height="11.30" fill="#805880"/>
<rect x="377.75" y="695.00" width="11.36" height="11.30" fill="#8850D8"/>
<rect x="388.81" y="695.00" width="11.36" height="11.30" fill="#A03020"/>
<rect x="399.88" y="695.00" width="11.36" height="11.30" fill="#C8E8F0"/>
<rect x="410.94" y="695.00" width="11.36" height="11.30" fill="#205028"/>
<rect x="245.00" y="706.00" width="11.36" height="11.30" fill="#5858C8"/>
<rect x="256.06" y="706.00" width="11.36" height="11.30" fill="#0820A0"/>
<rect x="267.12" y="706.00" width="11.36" height="11.30" fill="#70B090"/>
<rect x="278.19" y="706.00" width="11.36" height="11.30" fill="#5060A0"/>
<rect x="289.25" y="706.00" width="11.36" height="11.30" fill="#481810"/>
<rect x="300.31" y="706.00" width="11.36" height="11.30" fill="#F828B8"/>
<rect x="311.38" y="706.00" width="11.36" height="11.30" fill="#60F050"/>
<rect x="322.44" y="706.00" width="11.36" height="11.30" fill="#58E058"/>
<rect x="333.50" y="706.00" width="11.36" height="11.30" fill="#6060D8"/>
<rect x="344.56" y="706.00" width="11.36" height="11.30" fill="#28B040"/>
<rect x="355.62" y="706.00" width="11.36" height="11.30" fill="#B0C890"/>
<rect x="366.69" y="706.00" width="11.36" height="11.30" fill="#B06828"/>
<rect x="377.75" y="706.00" width="11.36" height="11.30" fill="#D08030"/>
<rect x="388.81" y="706.00" width="11.36" height="11.30" fill="#C09060"/>
<rect x="399.88" y="706.00" width="11.36" height="11.30" fill="#68A0E8"/>
<rect x="410.94" y="706.00" width="11.36" height="11.30" fill="#28B040"/>
<rect x="245.00" y="717.00" width="11.36" height="11.30" fill="#488088"/>
<rect x="256.06" y="717.00" width="11.36" height="11.30" fill="#50F0A0"/>
<rect x="267.12" y="717.00" width="11.36" height="11.30" fill="#2858B0"/>
<rect x="278.19" y="717.00" width="11.36" height="11.30" fill="#D8B838"/>
<rect x="289.25" y="717.00" width="11.36" height="11.30" fill="#482840"/>
<rect x="300.31" y="717.00" width="11.36" height="11.30" fill="#186050"/>
<rect x="311.38" y="717.00" width="11.36" height="11.30" fill="#B898D0"/>
<rect x="322.44" y="717.00" width="11.36" height="11.30" fill="#E8F850"/>
<rect x="333.50" y="717.00" width="11.36" height="11.30" fill="#704018"/>
<rect x="344.56" y="717.00" width="11.36" height="11.30" fill="#182070"/>
<rect x="355.62" y="717.00" width="11.36" height="11.30" fill="#48F088"/>
<rect x="366.69" y="717.00" width="11.36" height="11.30" fill="#A09058"/>
<rect x="377.75" y="717.00" width="11.36" height="11.30" fill="#D0D0D8"/>
<rect x="388.81" y="717.00" width="11.36" height="11.30" fill="#A87870"/>
<rect x="399.88" y="717.00" width="11.36" height="11.30" fill="#E840B0"/>
<rect x="410.94" y="717.00" width="11.36" height="11.30" fill="#388828"/>
<rect x="245.00" y="728.00" width="11.36" height="11.30" fill="#E87870"/>
<rect x="256.06" y="728.00" width="11.36" height="11.30" fill="#E04088"/>
<rect x="267.12" y="728.00" width="11.36" height="11.30" fill="#887848"/>
<rect x="278.19" y="728.00" width="11.36" height="11.30" fill="#C03838"/>
<rect x="289.25" y="728.00" width="11.36" height="11.30" fill="#101028"/>
<rect x="300.31" y="728.00" width="11.36" height="11.30" fill="#6028C8"/>
<rect x="311.38" y="728.00" width="11.36" height="11.30" fill="#185878"/>
<rect x="322.44" y="728.00" width="11.36" height="11.30" fill="#C0C098"/>
<rect x="333.50" y="728.00" width="11.36" height="11.30" fill="#502830"/>
<rect x="344.56" y="728.00" width="11.36" height="11.30" fill="#E030D0"/>
<rect x="355.62" y="728.00" width="11.36" height="11.30" fill="#185018"/>
<rect x="366.69" y="728.00" width="11.36" height="11.30" fill="#B09088"/>
<rect x="377.75" y="728.00" width="11.36" height="11.30" fill="#7860A0"/>
<rect x="388.81" y="728.00" width="11.36" height="11.30" fill="#082818"/>
<rect x="399.88" y="728.00" width="11.36" height="11.30" fill="#4010B0"/>
<rect x="410.94" y="728.00" width="11.36" height="11.30" fill="#809878"/>
<rect x="245.00" y="739.00" width="11.36" height="11.30" fill="#105080"/>
<rect x="256.06" y="739.00" width="11.36" height="11.30" fill="#386820"/>
<rect x="267.12" y="739.00" width="11.36" height="11.30" fill="#2048C0"/>
<rect x="278.19" y="739.00" width="11.36" height="11.30" fill="#20A058"/>
<rect x="289.25" y="739.00" width="11.36" height="11.30" fill="#A8B0B0"/>
<rect x="300.31" y="739.00" width="11.36" height="11.30" fill="#288878"/>
<rect x="311.38" y="739.00" width="11.36" height="11.30" fill="#105048"/>
<rect x="322.44" y="739.00" width="11.36" height="11.30" fill="#50D838"/>
<rect x="333.50" y="739.00" width="11.36" height="11.30" fill="#901838"/>
<rect x="344.56" y="739.00" width="11.36" height="11.30" fill="#B0B8C8"/>
<rect x="355.62" y="739.00" width="11.36" height="11.30" fill="#080C08"/>
<rect x="366.69" y="739.00" width="11.36" height="11.30" fill="#4040D0"/>
<rect x="377.75" y="739.00" width="11.36" height="11.30" fill="#A088D0"/>
<rect x="388.81" y="739.00" width="11.36" height="11.30" fill="#88D858"/>
<rect x="399.88" y="739.00" width="11.36" height="11.30" fill="#981840"/>
<rect x="410.94" y="739.00" width="11.36" height="11.30" fill="#30A8D0"/>
<rect x="245.00" y="750.00" width="11.36" height="11.30" fill="#48F0F8"/>
<rect x="256.06" y="750.00" width="11.36" height="11.30" fill="#982848"/>
<rect x="267.12" y="750.00" width="11.36" height="11.30" fill="#30E850"/>
<rect x="278.19" y="750.00" width="11.36" height="11.30" fill="#D04850"/>
<rect x="289.25" y="750.00" width="11.36" height="11.30" fill="#C8B838"/>
<rect x="300.31" y="750.00" width="11.36" height="11.30" fill="#3018A0"/>
<rect x="311.38" y="750.00" width="11.36" height="11.30" fill="#783020"/>
<rect x="322.44" y="750.00" width="11.36" height="11.30" fill="#582860"/>
<rect x="333.50" y="750.00" width="11.36" height="11.30" fill="#D03858"/>
<rect x="344.56" y="750.00" width="11.36" height="11.30" fill="#D830E0"/>
<rect x="355.62" y="750.00" width="11.36" height="11.30" fill="#806060"/>
<rect x="366.69" y="750.00" width="11.36" height="11.30" fill="#B8C0E8"/>
<rect x="377.75" y="750.00" width="11.36" height="11.30" fill="#B87080"/>
<rect x="388.81" y="750.00" width="11.36" height="11.30" fill="#2068E8"/>
<rect x="399.88" y="750.00" width="11.36" height="11.30" fill="#48B048"/>
<rect x="410.94" y="750.00" width="11.36" height="11.30" fill="#8878E0"/>
<rect x="245.00" y="761.00" width="11.36" height="11.30" fill="#5820D0"/>
<rect x="256.06" y="761.00" width="11.36" height="11.30" fill="#403870"/>
<rect x="267.12" y="761.00" width="11.36" height="11.30" fill="#787028"/>
<rect x="278.19" y="761.00" width="11.36" height="11.30" fill="#207098"/>
<rect x="289.25" y="761.00" width="11.36" height="11.30" fill="#E0A878"/>
<rect x="300.31" y="761.00" width="11.36" height="11.30" fill="#B0E8C8"/>
<rect x="311.38" y="761.00" width="11.36" height="11.30" fill="#C0D8A8"/>
<rect x="322.44" y="761.00" width="11.36" height="11.30" fill="#201888"/>
<rect x="333.50" y="761.00" width="11.36" height="11.30" fill="#409888"/>
<rect x="344.56" y="761.00" width="11.36" height="11.30" fill="#182038"/>
<rect x="355.62" y="761.00" width="11.36" height="11.30" fill="#38A040"/>
<rect x="366.69" y="761.00" width="11.36" height="11.30" fill="#601838"/>
<rect x="377.75" y="761.00" width="11.36" height="11.30" fill="#48D878"/>
<rect x="388.81" y="761.00" width="11.36" height="11.30" fill="#78C8D0"/>
<rect x="399.88" y="761.00" width="11.36" height="11.30" fill="#406050"/>
<rect x="410.94" y="761.00" width="11.36" height="11.30" fill="#601078"/>
<rect x="245.00" y="772.00" width="11.36" height="11.30" fill="#E040B0"/>
<rect x="256.06" y="772.00" width="11.36" height="11.30" fill="#9018B8"/>
<rect x="267.12" y="772.00" width="11.36" height="11.30" fill="#38A848"/>
<rect x="278.19" y="772.00" width="11.36" height="11.30" fill="#38D040"/>
<rect x="289.25" y="772.00" width="11.36" height="11.30" fill="#B0A0C0"/>
<rect x="300.31" y="772.00" width="11.36" height="11.30" fill="#B8B068"/>
<rect x="311.38" y="772.00" width="11.36" height="11.30" fill="#68D868"/>
<rect x="322.44" y="772.00" width="11.36" height="11.30" fill="#F86858"/>
<rect x="333.50" y="772.00" width="11.36" height="11.30" fill="#90E848"/>
<rect x="344.56" y="772.00" width="11.36" height="11.30" fill="#605098"/>
<rect x="355.62" y="772.00" width="11.36" height="11.30" fill="#38E850"/>
<rect x="366.69" y="772.00" width="11.36" height="11.30" fill="#C02830"/>
<rect x="377.75" y="772.00" width="11.36" height="11.30" fill="#384018"/>
<rect x="388.81" y="772.00" width="11.36" height="11.30" fill="#E8A8C8"/>
<rect x="399.88" y="772.00" width="11.36" height="11.30" fill="#208858"/>
<rect x="410.94" y="772.00" width="11.36" height="11.30" fill="#38B898"/>
<rect x="245.00" y="783.00" width="11.36" height="11.30" fill="#689078"/>
<rect x="256.06" y="783.00" width="11.36" height="11.30" fill="#B02838"/>
<rect x="267.12" y="783.00" width="11.36" height="11.30" fill="#B05090"/>
<rect x="278.19" y="783.00" width="11.36" height="11.30" fill="#E03050"/>
<rect x="289.25" y="783.00" width="11.36" height="11.30" fill="#E088A8"/>
<rect x="300.31" y="783.00" width="11.36" height="11.30" fill="#30C038"/>
<rect x="311.38" y="783.00" width="11.36" height="11.30" fill="#407030"/>
<rect x="322.44" y="783.00" width="11.36" height="11.30" fill="#30C870"/>
<rect x="333.50" y="783.00" width="11.36" height="11.30" fill="#C878B0"/>
<rect x="344.56" y="783.00" width="11.36" height="11.30" fill="#C830B8"/>
<rect x="355.62" y="783.00" width="11.36" height="11.30" fill="#E0C888"/>
<rect x="366.69" y="783.00" width="11.36" height="11.30" fill="#20A870"/>
<rect x="377.75" y="783.00" width="11.36" height="11.30" fill="#E848D8"/>
<rect x="388.81" y="783.00" width="11.36" height="11.30" fill="#489880"/>
<rect x="399.88" y="783.00" width="11.36" height="11.30" fill="#383850"/>
<rect x="410.94" y="783.00" width="11.36" height="11.30" fill="#40E050"/>
<rect x="245.00" y="794.00" width="11.36" height="11.30" fill="#687830"/>
<rect x="256.06" y="794.00" width="11.36" height="11.30" fill="#20A850"/>
<rect x="267.12" y="794.00" width="11.36" height="11.30" fill="#9058D0"/>
<rect x="278.19" y="794.00" width="11.36" height="11.30" fill="#A8D098"/>
<rect x="289.25" y="794.00" width="11.36" height="11.30" fill="#E09080"/>
<rect x="300.31" y="794.00" width="11.36" height="11.30" fill="#6820A0"/>
<rect x="311.38" y="794.00" width="11.36" height="11.30" fill="#E028C8"/>
<rect x="322.44" y="794.00" width="11.36" height="11.30" fill="#C838B8"/>
<rect x="333.50" y="794.00" width="11.36" height="11.30" fill="#F8E8C0"/>
<rect x="344.56" y="794.00" width="11.36" height="11.30" fill="#905090"/>
<rect x="355.62" y="794.00" width="11.36" height="11.30" fill="#889838"/>
<rect x="366.69" y="794.00" width="11.36" height="11.30" fill="#68B030"/>
<rect x="377.75" y="794.00" width="11.36" height="11.30" fill="#603090"/>
<rect x="388.81" y="794.00" width="11.36" height="11.30" fill="#A0E890"/>
<rect x="399.88" y="794.00" width="11.36" height="11.30" fill="#9080A8"/>
<rect x="410.94" y="794.00" width="11.36" height="11.30" fill="#287830"/>
<rect x="245.00" y="805.00" width="11.36" height="11.30" fill="#58C8A8"/>
<rect x="256.06" y="805.00" width="11.36" height="11.30" fill="#50A070"/>
<rect x="267.12" y="805.00" width="11.36" height="11.30" fill="#F8B840"/>
<rect x="278.19" y="805.00" width="11.36" height="11.30" fill="#F07050"/>
<rect x="289.25" y="805.00" width="11.36" height="11.30" fill="#28C058"/>
<rect x="300.31" y="805.00" width="11.36" height="11.30" fill="#709088"/>
<rect x="311.38" y="805.00" width="11.36" height="11.30" fill="#70F8D8"/>
<rect x="322.44" y="805.00" width="11.36" height="11.30" fill="#289880"/>
<rect x="333.50" y="805.00" width="11.36" height="11.30" fill="#70E8B0"/>
<rect x="344.56" y="805.00" width="11.36" height="11.30" fill="#70E858"/>
<rect x="355.62" y="805.00" width="11.36" height="11.30" fill="#E8C890"/>
<rect x="366.69" y="805.00" width="11.36" height="11.30" fill="#B8E0A0"/>
<rect x="377.75" y="805.00" width="11.36" height="11.30" fill="#C8F8B0"/>
<rect x="388.81" y="805.00" width="11.36" height="11.30" fill="#3098A0"/>
<rect x="399.88" y="805.00" width="11.36" height="11.30" fill="#F86070"/>
<rect x="410.94" y="805.00" width="11.36" height="11.30" fill="#E040B0"/>
<rect x="245.00" y="816.00" width="11.36" height="11.30" fill="#2080D0"/>
<rect x="256.06" y="816.00" width="11.36" height="11.30" fill="#208070"/>
<rect x="267.12" y="816.00" width="11.36" height="11.30" fill="#C82020"/>
<rect x="278.19" y="816.00" width="11.36" height="11.30" fill="#F8C040"/>
<rect x="289.25" y="816.00" width="11.36" height="11.30" fill="#884058"/>
<rect x="300.31" y="816.00" width="11.36" height="11.30" fill="#586038"/>
<rect x="311.38" y="816.00" width="11.36" height="11.30" fill="#28D050"/>
<rect x="322.44" y="816.00" width="11.36" height="11.30" fill="#88F8C8"/>
<rect x="333.50" y="816.00" width="11.36" height="11.30" fill="#F8D8C0"/>
<rect x="344.56" y="816.00" width="11.36" height="11.30" fill="#D848A0"/>
<rect x="355.62" y="816.00" width="11.36" height="11.30" fill="#8018C0"/>
<rect x="366.69" y="816.00" width="11.36" height="11.30" fill="#207090"/>
<rect x="377.75" y="816.00" width="11.36" height="11.30" fill="#60F840"/>
<rect x="388.81" y="816.00" width="11.36" height="11.30" fill="#30B0A0"/>
<rect x="399.88" y="816.00" width="11.36" height="11.30" fill="#C8B838"/>
<rect x="410.94" y="816.00" width="11.36" height="11.30" fill="#609850"/>
<rect x="245.00" y="827.00" width="11.36" height="11.30" fill="#7060D8"/>
<rect x="256.06" y="827.00" width="11.36" height="11.30" fill="#989888"/>
<rect x="267.12" y="827.00" width="11.36" height="11.30" fill="#D8F0F0"/>
<rect x="278.19" y="827.00" width="11.36" height="11.30" fill="#801850"/>
<rect x="289.25" y="827.00" width="11.36" height="11.30" fill="#4010A8"/>
<rect x="300.31" y="827.00" width="11.36" height="11.30" fill="#98B098"/>
<rect x="311.38" y="827.00" width="11.36" height="11.30" fill="#102058"/>
<rect x="322.44" y="827.00" width="11.36" height="11.30" fill="#A82090"/>
<rect x="333.50" y="827.00" width="11.36" height="11.30" fill="#383048"/>
<rect x="344.56" y="827.00" width="11.36" height="11.30" fill="#30E870"/>
<rect x="355.62" y="827.00" width="11.36" height="11.30" fill="#788850"/>
<rect x="366.69" y="827.00" width="11.36" height="11.30" fill="#D830C0"/>
<rect x="377.75" y="827.00" width="11.36" height="11.30" fill="#2088F0"/>
<rect x="388.81" y="827.00" width="11.36" height="11.30" fill="#883838"/>
<rect x="399.88" y="827.00" width="11.36" height="11.30" fill="#4878F0"/>
<rect x="410.94" y="827.00" width="11.36" height="11.30" fill="#A81840"/>
</g>
<text x="248.7" y="863.8" font-size="28.4" text-anchor="start" >Latent Noise <tspan x="404.0" y="864.0" font-size="25.5" font-style="italic" font-family="'DejaVu Serif','Liberation Serif',serif">&#1013;</tspan></text>
<polyline points="422.0,750.2 573.5,750.2" fill="none" stroke="#000" stroke-width="4.5" stroke-linejoin="miter"/><polygon points="586.5,750.2 573.0,757.2 573.0,743.2" fill="#000"/>
<g fill="none" stroke="#A8A4A4" stroke-width="4"><circle cx="604.8" cy="750.2" r="17.7"/><path d="M587,750.2 H622.6 M604.8,732.4 V768" stroke-width="3.3"/></g>
<text x="577.0" y="690.8" font-size="28.4" text-anchor="start" ><tspan x="576.6" y="690.8" font-size="26" font-style="italic" font-family="'DejaVu Serif','Liberation Serif',serif">z</tspan><tspan x="590.8" y="697.1" font-size="20.5" font-style="italic" font-family="'DejaVu Serif','Liberation Serif',serif">t</tspan></text>
<polyline points="624.5,750.2 861.2,750.2" fill="none" stroke="#000" stroke-width="4.5" stroke-linejoin="miter"/><polygon points="874.2,750.2 860.7,757.2 860.7,743.2" fill="#000"/>
<rect x="873.8" y="718.6" width="268.5" height="62.9" rx="21" fill="#A1C98B"/>
<text x="1008.3" y="762.7" font-size="32.5" text-anchor="middle" >Teacher Network</text>
<line x1="1007.8" y1="623.2" x2="1007.8" y2="704" stroke="#000" stroke-width="4.7" stroke-dasharray="18.2 14"/>
<polygon points="1007.8,717.8 1001.1,703.7 1014.5,703.7" fill="#000"/>
<text x="1016.6" y="683.5" font-size="28.5" text-anchor="start" >EMA Update</text>
<polyline points="1142.3,750.0 1402.8,750.0" fill="none" stroke="#000" stroke-width="4.5" stroke-linejoin="miter"/><polygon points="1415.8,750.0 1402.3,757.0 1402.3,743.0" fill="#000"/>
<g transform="translate(1415.0,662.0)"><clipPath id="cps"><rect x="0" y="0" width="176" height="176"/></clipPath><g clip-path="url(#cps)">
<rect x="0" y="0" width="176" height="176" fill="#753A72"/>
<rect x="0.0" y="0.0" width="176.1" height="73.0" fill="#4377AA" />
<polygon points="0.0,60.6 16.0,62.1 31.5,60.1 70.1,63.2 81.7,58.0 84.3,62.7 106.2,62.1 119.1,58.8 144.9,52.3 165.5,46.7 176.1,43.1 176.1,71.7 0.0,71.7" fill="#3E3E3E" />
<polygon points="0.0,70.4 176.1,70.9 176.1,78.6 0.0,77.1" fill="#B48E8E" />
<polygon points="0.0,77.1 62.4,73.0 150.1,73.0 176.1,78.6 176.1,176.1 0.0,176.1" fill="#753A72" />
<polygon points="0.0,76.8 26.3,76.8 44.9,83.3 36.6,89.7 0.0,109.1" fill="#EC2BDB" />
<polygon points="54.7,75.6 70.1,70.9 98.5,70.9 98.5,74.0 70.1,74.5" fill="#EC2BDB" />
<polygon points="143.6,76.8 176.1,78.6 176.1,85.9 165.5,83.3 150.1,78.6" fill="#EC2BDB" />
<polygon points="0.0,0.0 5.2,1.3 4.6,8.5 10.8,12.4 16.0,18.3 15.5,26.6 18.6,33.0 15.5,39.5 18.1,48.5 19.9,57.5 15.5,62.7 0.0,62.7" fill="#62842B" />
<polygon points="31.5,60.6 36.6,55.4 37.9,47.7 46.9,45.9 58.5,47.2 62.4,53.6 68.1,55.4 70.1,60.6 62.4,65.2 58.5,69.9 40.5,69.9 35.3,65.2" fill="#62842B" />
<circle cx="73.5" cy="42.8" r="2.3" fill="#62842B"/>
<rect x="25.0" y="22.7" width="2.3" height="63.2" fill="#9A9A9A" />
<path d="M26.3,24.0 C36.6,21.4 52.1,19.9 66.3,19.6" fill="none" stroke="#9A9A9A" stroke-width="1.3"/>
<rect x="65.0" y="18.6" width="8.3" height="2.6" fill="#E8A33A" rx="1"/>
<rect x="111.4" y="47.2" width="2.1" height="16.0" fill="#9A9A9A" />
<rect x="111.4" y="46.7" width="36.6" height="2.1" fill="#9A9A9A" />
<rect x="139.8" y="47.7" width="2.1" height="20.6" fill="#9A9A9A" />
<rect x="116.6" y="55.4" width="1.5" height="12.9" fill="#9A9A9A" />
<rect x="98.0" y="55.4" width="9.5" height="1.3" fill="#9A9A9A" />
<polygon points="144.9,35.8 153.9,36.4 174.6,40.2 174.6,42.0 153.9,37.9 144.9,37.1" fill="#9A9A9A" />
<rect x="172.5" y="39.5" width="3.1" height="33.5" fill="#9A9A9A" />
<path d="M32.2,77.6 Q33.0,70.9 36.6,70.4 L45.6,70.4 Q49.0,71.4 50.0,78.1 L32.7,78.1 Z" fill="#02007F"/>
<path d="M95.4,96.2 L98.5,74.3 Q99.0,70.9 102.4,70.9 L139.8,70.9 Q142.9,70.9 143.1,74.3 L146.5,101.3 L139.8,102.9 L135.9,106.5 L129.4,102.9 L111.4,102.9 L105.0,106.5 L99.8,101.3 Z" fill="#02007F"/>
<rect x="92.8" y="80.2" width="3.6" height="4.6" fill="#02007F" />
<path d="M49.0,128.4 C49.5,114.2 52.6,103.9 57.2,94.9 L56.0,92.3 L59.8,89.7 Q61.4,76.8 65.0,76.1 L77.9,76.1 Q81.5,76.8 83.0,89.7 L86.1,92.3 L85.6,94.9 C90.8,103.9 94.6,115.5 95.9,128.4 Q95.9,134.3 90.8,134.9 L54.7,135.4 Q49.0,135.4 49.0,128.4 Z" fill="#02007F"/>
</g></g>
<text x="1409.8" y="863.6" font-size="28.4" text-anchor="start" >Pseudo Label <tspan x="1571.0" y="863.6" font-size="26" font-style="italic" font-family="'DejaVu Serif','Liberation Serif',serif">&#375;</tspan><tspan x="1587.7" y="868.8" font-size="20.5" font-style="italic" font-family="'DejaVu Serif','Liberation Serif',serif">t</tspan></text>
</svg>
</body></html>
